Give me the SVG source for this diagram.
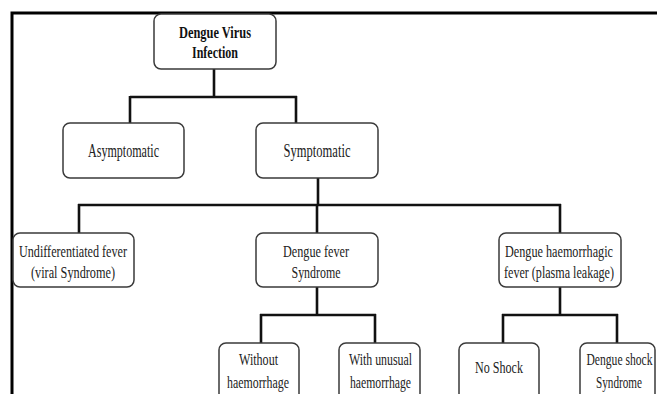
<svg xmlns="http://www.w3.org/2000/svg" width="657" height="394" viewBox="0 0 657 394">
<style>
.box{fill:#fff;stroke:#3a3a3a;stroke-width:1.5}
.t{font-family:"Liberation Serif","Times New Roman",serif;font-size:16px;fill:#222;text-anchor:middle}
.l1{font-size:18px}
.l2{font-size:17px}
.b{font-weight:bold;fill:#111}
.c{fill:none;stroke:#111;stroke-width:2.6}
.frame{fill:none;stroke:#000;stroke-width:3}
</style>
<rect width="657" height="394" fill="#fff"/>
<path class="frame" d="M12,394 V13 H657"/>
<g id="connectors">
<path class="c" d="M214,69 V97 M130,97 H297 M130,96 V124 M296,96 V124"/>
<path class="c" d="M318,178 V205 M78,205 H561 M79,204 V233 M317,204 V233 M560,204 V233"/>
<path class="c" d="M317,287 V315 M260,315 H376 M261,314 V343 M375,314 V343"/>
<path class="c" d="M560,287 V315 M502,315 H618 M503,314 V343 M617,314 V343"/>
</g>
<g id="n-dengue-virus">
<rect class="box" x="154" y="14" width="122" height="55" rx="7"/>
<text class="t b" x="215" y="38.3" textLength="72" lengthAdjust="spacingAndGlyphs">Dengue Virus</text>
<text class="t b" x="215" y="58" textLength="46" lengthAdjust="spacingAndGlyphs">Infection</text>
</g>
<g id="n-asymptomatic">
<rect class="box" x="63" y="123" width="121" height="55" rx="7"/>
<text class="t l1" x="123.5" y="156.5" textLength="71" lengthAdjust="spacingAndGlyphs">Asymptomatic</text>
</g>
<g id="n-symptomatic">
<rect class="box" x="256" y="123" width="122" height="55" rx="7"/>
<text class="t l1" x="317" y="156.5" textLength="67" lengthAdjust="spacingAndGlyphs">Symptomatic</text>
</g>
<g id="n-undifferentiated">
<rect class="box" x="13" y="233" width="121" height="54" rx="7"/>
<text class="t l2" x="73" y="257" textLength="108" lengthAdjust="spacingAndGlyphs">Undifferentiated fever</text>
<text class="t l2" x="73" y="278" textLength="84" lengthAdjust="spacingAndGlyphs">(viral Syndrome)</text>
</g>
<g id="n-dengue-fever">
<rect class="box" x="256" y="233" width="122" height="54" rx="7"/>
<text class="t l2" x="316" y="257" textLength="66" lengthAdjust="spacingAndGlyphs">Dengue fever</text>
<text class="t l2" x="316" y="278" textLength="49" lengthAdjust="spacingAndGlyphs">Syndrome</text>
</g>
<g id="n-dhf">
<rect class="box" x="499" y="233" width="122" height="54" rx="7"/>
<text class="t l2" x="559" y="257" textLength="108" lengthAdjust="spacingAndGlyphs">Dengue haemorrhagic</text>
<text class="t l2" x="559" y="278" textLength="110" lengthAdjust="spacingAndGlyphs">fever (plasma leakage)</text>
</g>
<g id="n-without">
<rect class="box" x="219" y="343" width="80" height="60" rx="7"/>
<text class="t" x="258.5" y="365" textLength="39" lengthAdjust="spacingAndGlyphs">Without</text>
<text class="t" x="258" y="388" textLength="62" lengthAdjust="spacingAndGlyphs">haemorrhage</text>
</g>
<g id="n-with-unusual">
<rect class="box" x="339" y="343" width="81" height="60" rx="7"/>
<text class="t" x="380.5" y="365" textLength="63" lengthAdjust="spacingAndGlyphs">With unusual</text>
<text class="t" x="380.5" y="388" textLength="61" lengthAdjust="spacingAndGlyphs">haemorrhage</text>
</g>
<g id="n-no-shock">
<rect class="box" x="459" y="343" width="80" height="60" rx="7"/>
<text class="t" x="499" y="373" textLength="48" lengthAdjust="spacingAndGlyphs">No Shock</text>
</g>
<g id="n-dss">
<rect class="box" x="580" y="343" width="75" height="60" rx="7"/>
<text class="t" x="619.5" y="365" textLength="66" lengthAdjust="spacingAndGlyphs">Dengue shock</text>
<text class="t" x="619" y="388" textLength="46" lengthAdjust="spacingAndGlyphs">Syndrome</text>
</g>
</svg>
